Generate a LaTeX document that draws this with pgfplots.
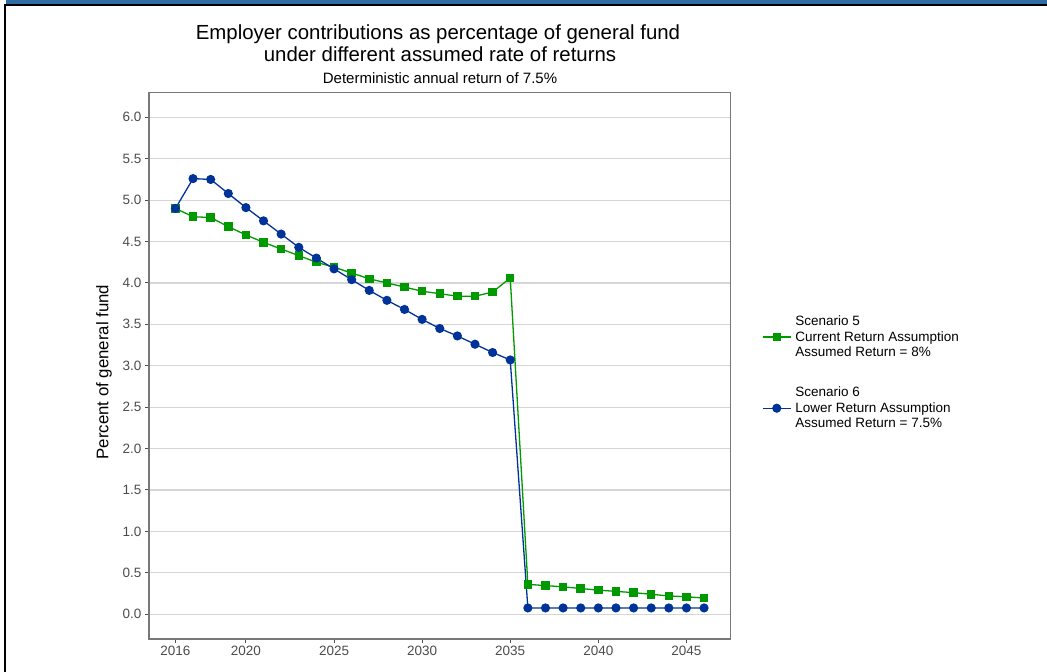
\documentclass[border=0pt]{standalone}
\usepackage{pgfplots}
\pgfplotsset{compat=1.18}
\usepackage{pgfplotstable}
\usepackage{fontspec}
\setmainfont{Liberation Sans}

\definecolor{sgreen}{RGB}{0,153,0}
\definecolor{sblue}{RGB}{0,51,153}
\definecolor{frameblue}{RGB}{46,108,164}
\definecolor{tickgray}{RGB}{77,77,77}
\definecolor{gridgray}{RGB}{214,214,214}
\definecolor{boxgray}{RGB}{120,120,120}

% employer contributions, % of general fund
\pgfplotstableread{
year s5    s6
2016 4.90  4.90
2017 4.80  5.26
2018 4.79  5.25
2019 4.68  5.08
2020 4.58  4.91
2021 4.49  4.75
2022 4.41  4.59
2023 4.33  4.43
2024 4.25  4.30
2025 4.19  4.17
2026 4.12  4.04
2027 4.05  3.91
2028 4.00  3.79
2029 3.95  3.68
2030 3.90  3.56
2031 3.87  3.45
2032 3.84  3.36
2033 3.84  3.26
2034 3.89  3.16
2035 4.06  3.07
2036 0.36  0.075
2037 0.345 0.075
2038 0.33  0.075
2039 0.31  0.075
2040 0.29  0.075
2041 0.275 0.075
2042 0.26  0.075
2043 0.24  0.075
2044 0.22  0.075
2045 0.21  0.075
2046 0.195 0.075
}\contrib

\begin{document}
\begin{tikzpicture}[x=1pt,y=1pt]
\useasboundingbox (0,0) rectangle (1047,672);
\fill[white] (0,0) rectangle (1047,672);
% screenshot frame
\fill[frameblue] (6,668) rectangle (1047,672);
\fill[black] (4,666) rectangle (1047,668);
\fill[black] (4,0) rectangle (6,668);

% titles
\node[anchor=base, font=\fontsize{20.4}{24}\selectfont] at (438,632.5) {Employer contributions as percentage of general fund};
\node[anchor=base, font=\fontsize{20.4}{24}\selectfont] at (440,610.7) {under different assumed rate of returns};
\node[anchor=base, font=\fontsize{15}{18}\selectfont] at (440,588.6) {Deterministic annual return of 7.5\%};
\node[rotate=90, font=\fontsize{16.8}{20}\selectfont] at (104,300) {Percent of general fund};

\begin{axis}[
    at={(149pt,33pt)}, anchor=south west,
    scale only axis, width=581.5pt, height=546.5pt,
    xmin=2014.5, xmax=2047.5, ymin=-0.3, ymax=6.3,
    xtick={2016,2020,2025,2030,2035,2040,2045},
    ytick={0,0.5,1,1.5,2,2.5,3,3.5,4,4.5,5,5.5,6},
    xticklabel style={/pgf/number format/1000 sep={}},
    yticklabel style={/pgf/number format/.cd,fixed,fixed zerofill,precision=1},
    /pgf/number format/assume math mode=true,
    tick label style={font=\fontsize{13.5}{16}\selectfont, text=tickgray},
    tick align=outside, major tick length=4pt,
    tick style={tickgray, line width=1pt},
    tick pos=left,
    axis line style={boxgray, line width=1.2pt},
    ymajorgrids, grid style={gridgray, line width=1.2pt},
    legend image code/.code={\draw[mark repeat=2,mark phase=2] plot coordinates {(0pt,0pt) (14pt,0pt) (28pt,0pt)};},
    legend cell align=left,
    legend style={at={(axis description cs:1.054,0.4875)}, anchor=west,
        draw=none, fill=none, inner sep=0pt,
        font=\fontsize{13.5}{15.5}\selectfont,
        nodes={inner sep=0pt, align=left},
        row sep=29pt,
        /tikz/every odd column/.append style={column sep=4pt}},
]
\addplot[sgreen, line width=1.3pt, mark=square*, mark size=3.6pt, mark options={solid}]
    table[x=year, y=s5] {\contrib};
\addlegendentry{Scenario 5\\Current Return Assumption\\Assumed Return = 8\%}
\addplot[sblue, line width=1.3pt, mark=*, mark size=3.9pt, mark options={solid}]
    table[x=year, y=s6] {\contrib};
\addlegendentry{Scenario 6\\Lower Return Assumption\\Assumed Return = 7.5\%}
\end{axis}
\end{tikzpicture}
\end{document}
